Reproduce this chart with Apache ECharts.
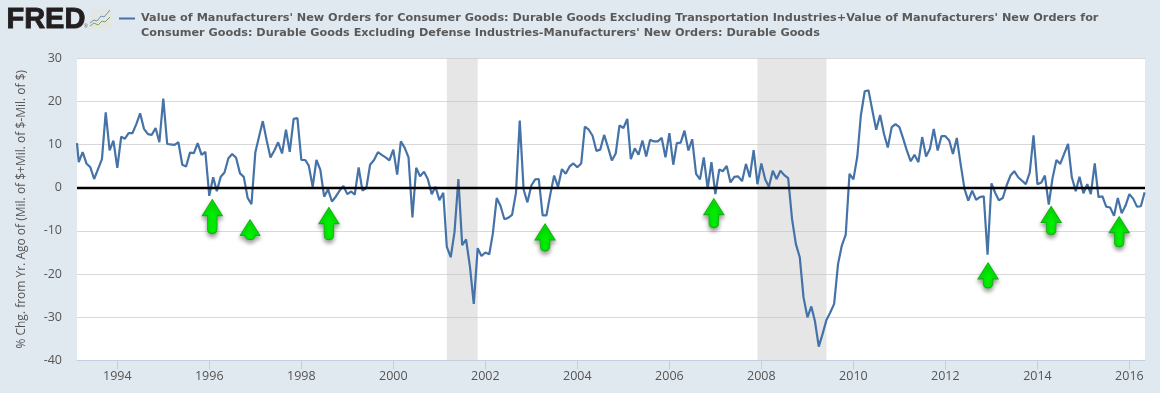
<!DOCTYPE html>
<html>
<head>
<meta charset="utf-8">
<style>html,body{margin:0;padding:0;background:#e1e9f0}#c{width:1160px;height:393px}</style>
<script src="https://cdn.jsdelivr.net/npm/echarts@6/dist/echarts.min.js"></script>
</head>
<body>
<div id="c"></div>
<script>
var seriesName = "Value of Manufacturers' New Orders for Consumer Goods: Durable Goods Excluding Transportation Industries+Value of Manufacturers' New Orders for\nConsumer Goods: Durable Goods Excluding Defense Industries-Manufacturers' New Orders: Durable Goods";
var yAxisTitle = "% Chg. from Yr. Ago of (Mil. of $+Mil. of $-Mil. of $)";
var firstVisibleValue = 10.3;
var values = [
  5.9,8.2,5.6,4.7,2.0,4.3,6.6,17.4,8.6,10.9,
  4.6,11.8,11.3,12.6,12.6,14.7,17.2,13.6,12.4,12.2,13.8,10.5,
  20.6,10.1,10,9.9,10.5,5.3,4.9,8.1,8.0,10.3,7.6,8.3,
  -1.9,2.4,-0.8,2.5,3.5,6.8,7.8,6.9,3.3,2.5,-2.4,-3.8,
  8.2,12,15.4,10.9,7.0,8.6,10.5,7.9,13.4,8.3,15.9,16.1,
  6.4,6.4,5.1,0.2,6.4,4.1,-2.1,-0.4,-3.2,-2.1,-0.7,0.4,
  -1.5,-0.9,-1.6,4.7,-0.7,-0.1,5.3,6.4,8.2,7.6,7.0,6.3,
  8.8,3.0,10.7,9.2,7.0,-6.9,4.6,2.6,3.7,2.0,-1.5,0.2,
  -2.9,-1.2,-13.7,-16.1,-10.3,2.0,-13.3,-12,-18.4,-26.9,-14,-15.8,
  -15,-15.4,-10.7,-2.4,-4.2,-7.3,-7,-6.3,-1.2,15.5,-0.5,-3.4,
  0.5,1.9,2,-6.4,-6.4,-1.5,2.8,0.2,4.3,3.2,4.9,5.6,
  4.7,5.6,14.1,13.4,12,8.5,8.8,12.2,9.3,6.3,7.9,14.4,
  13.8,15.9,6.6,9.1,7.6,10.9,7.2,11.1,10.7,10.7,11.5,7.0,
  12.6,5.3,10.3,10.4,13.2,8.6,11.2,3.2,1.9,7.0,-0.2,5.9,
  -1.5,4.2,3.8,5.0,1.2,2.5,2.6,1.5,5.5,2.4,8.7,0.8,
  5.6,1.9,0.2,3.9,2.0,3.9,2.9,2.2,-7.3,-13,-16.1,-25.4,
  -30,-27.5,-30.8,-36.8,-33.9,-30.6,-28.9,-26.9,-17.7,-13.4,-10.9,3.2,
  1.9,7.2,16.7,22.3,22.5,17.8,13.4,16.8,12.4,9.3,14,14.7,
  14,11.3,8.6,6.1,7.6,5.9,11.7,7.2,9,13.6,8.6,11.9,
  11.9,10.9,7.8,11.5,5.5,-0.3,-3,-0.7,-2.8,-2.2,-2,-15.5,
  1.0,-1.3,-2.9,-2.4,0.5,2.8,3.8,2.4,1.6,0.8,3.5,12.1,
  0.8,1.2,2.8,-3.9,2.2,6.4,5.5,7.8,10.1,2.4,-0.8,2.5,
  -1.3,0.8,-1.5,5.6,-2.2,-2,-4.4,-4.6,-6.5,-2.4,-5.9,-4.2,
  -1.5,-2.6,-4.4,-4.3,-1.1
];
var recessions = [["2001-03-01","2001-11-01"],["2007-12-01","2009-06-01"]];
var tickYears = [1994,1996,1998,2000,2002,2004,2006,2008,2010,2012,2014,2016];
var arrowDates = ["1996-01-25","1996-11-20","1998-08-08","2003-04-20","2006-12-20","2012-12-05","2014-04-20","2015-10-12"];
var arrowValues = [-6.7,-9.7,-8.3,-11.5,-5.9,-20.3,-7.6,-10.2];
var arrowLengths = [34,20,32,27,29,25,28,30];

function ms(s) { return Date.parse(s + "T00:00:00Z"); }
var axisMin = ms("1993-02-15"), axisMax = ms("2016-05-04");
var lineData = [[axisMin, firstVisibleValue]];
values.forEach(function (v, i) {
  lineData.push([Date.UTC(1993, 2 + i, 1), v]);
});
var tickValues = tickYears.map(function (y) { return Date.UTC(y, 0, 1); });

function arrowPath(len) {
  var w = 20, hw = 10, head = 16, s = 4.8;
  var stemEnd = Math.max(len - s, head + 1);
  return "path://M" + hw + " 0 L" + w + " " + head + " L" + (hw + s) + " " + head +
    " L" + (hw + s) + " " + stemEnd +
    " Q" + (hw + s) + " " + len + " " + hw + " " + len +
    " Q" + (hw - s) + " " + len + " " + (hw - s) + " " + stemEnd +
    " L" + (hw - s) + " " + head + " L0 " + head + " Z";
}
var arrowData = arrowDates.map(function (d, i) {
  return {
    coord: [ms(d), arrowValues[i]],
    symbol: arrowPath(arrowLengths[i]),
    symbolSize: [20, arrowLengths[i]]
  };
});

var chart = echarts.init(document.getElementById("c"), null, { renderer: "canvas" });
var grey = "#555555";
chart.setOption({
  animation: false,
  backgroundColor: "#e1e9f0",
  textStyle: { fontFamily: "Open Sans" },
  title: {
    text: seriesName, left: 141, top: 11, padding: 0,
    textStyle: { fontFamily: "DejaVu Sans", fontWeight: "bold", fontSize: 11.25, color: "#595959", lineHeight: 15 }
  },
  grid: { left: 77, right: 15, top: 58, bottom: 32.5, backgroundColor: "#ffffff", show: true, borderWidth: 0 },
  legend: {
    show: true, left: 119, top: 13.5, padding: 0, itemWidth: 16, itemHeight: 10, itemGap: 0,
    selectedMode: false, icon: "path://M0 4 L16 4 L16 6 L0 6 Z",
    formatter: function () { return ""; },
    textStyle: { fontSize: 1 }
  },
  xAxis: {
    type: "value", min: axisMin, max: axisMax, scale: true,
    axisLine: { show: true, onZero: false, lineStyle: { color: "#c0d0e0", width: 1 } },
    axisTick: { show: true, customValues: tickValues, length: 9, lineStyle: { color: "#c0d0e0" } },
    minorTick: { show: false },
    splitLine: { show: false },
    axisLabel: {
      customValues: tickValues, color: grey, fontSize: 12.5, margin: 9, hideOverlap: false,
      formatter: function (v) { return String(new Date(v).getUTCFullYear()); }
    }
  },
  yAxis: {
    type: "value", min: -40, max: 30, interval: 10,
    name: yAxisTitle, nameLocation: "middle", nameGap: 49, nameRotate: 90,
    nameTextStyle: { color: grey, fontSize: 12 },
    axisLine: { show: false }, axisTick: { show: false },
    axisLabel: { color: grey, fontSize: 12.5, margin: 15 },
    splitLine: { show: true, lineStyle: { color: "#d8d8d8", width: 1 } }
  },
  series: [{
    name: seriesName,
    type: "line", data: lineData, showSymbol: false, symbol: "none", smooth: false,
    clip: true, z: 3,
    lineStyle: { color: "#4572a7", width: 2.2 },
    itemStyle: { color: "#4572a7" },
    markArea: {
      silent: true, z: 1,
      itemStyle: { color: "rgba(200,200,200,0.45)" },
      data: recessions.map(function (r) { return [{ xAxis: ms(r[0]) }, { xAxis: ms(r[1]) }]; })
    },
    markLine: {
      silent: true, symbol: "none", z: 4, animation: false,
      lineStyle: { color: "#000000", width: 2.4, type: "solid" },
      label: { show: false },
      data: [{ yAxis: 0 }]
    },
    markPoint: {
      silent: true, z: 5, animation: false, label: { show: false },
      itemStyle: {
        color: "#00ee00", borderColor: "#12b012", borderWidth: 1,
        shadowColor: "rgba(0,0,0,0.4)", shadowBlur: 4, shadowOffsetY: 3
      },
      data: arrowData
    }
  }],
  graphic: [
    { type: "text", left: 6, top: 5, z: 10, style: { text: "FRED", font: "bold 29px 'Liberation Sans'", fill: "#231f20", stroke: "#231f20", lineWidth: 0.9 } },
    { type: "text", left: 84, top: 24, z: 10, style: { text: "®", font: "5px 'Liberation Sans'", fill: "#555" } },
    { type: "rect", z: 10, shape: { x: 89, y: 9, width: 22, height: 20, r: 2 }, style: { fill: "#e4e6e4" } },
    { type: "polyline", z: 11, shape: { points: [[90,23],[94,20],[97,21],[101,16],[104,17],[110,10]] }, style: { stroke: "#6f93b5", lineWidth: 1, fill: null } },
    { type: "polyline", z: 11, shape: { points: [[90,26],[94,23],[98,25],[102,21],[105,22],[110,17]] }, style: { stroke: "#7fa35a", lineWidth: 1, fill: null } }
  ]
});
</script>
</body>
</html>
